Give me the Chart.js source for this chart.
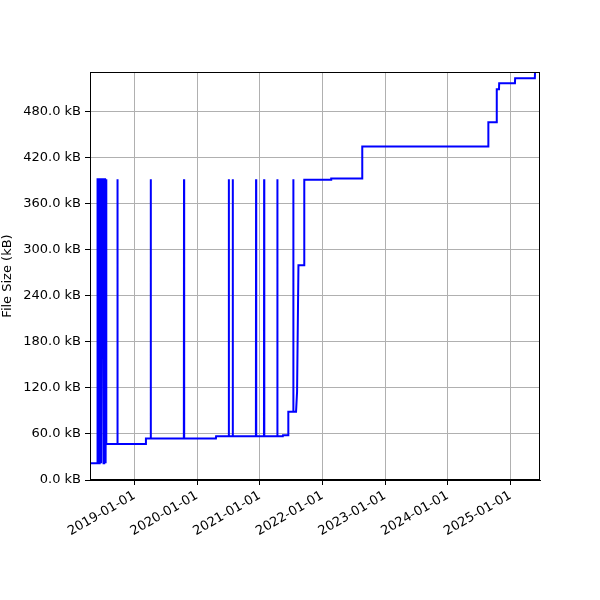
<!DOCTYPE html>
<html>
<head>
<meta charset="utf-8">
<script src="https://cdn.jsdelivr.net/npm/chart.js@4.4.1/dist/chart.umd.min.js"></script>
<style>
  body { margin: 0; background: #fff; }
  #wrap { width: 600px; height: 600px; }
</style>
</head>
<body>
<div id="wrap"><canvas id="myChart"></canvas></div>
<script>
// commit dates and file size (kB)
var dates = [
  "2018-04-21", "2018-05-30", "2018-05-31", "2018-06-08", "2018-06-09",
  "2018-06-12", "2018-06-13", "2018-06-20", "2018-06-21", "2018-06-25",
  "2018-06-26", "2018-07-04", "2018-07-05", "2018-07-08", "2018-07-09",
  "2018-07-14", "2018-07-15", "2018-07-19", "2018-07-20", "2018-07-21",
  "2018-09-23", "2018-09-24", "2018-09-25",
  "2019-03-07", "2019-03-09",
  "2019-04-05", "2019-04-06", "2019-04-07",
  "2019-10-16", "2019-10-17", "2019-10-18",
  "2020-04-20", "2020-04-21",
  "2020-07-03", "2020-07-04", "2020-07-05",
  "2020-07-26", "2020-07-27", "2020-07-28",
  "2020-12-09", "2020-12-10", "2020-12-11",
  "2021-01-25", "2021-01-26", "2021-01-27",
  "2021-04-12", "2021-04-13", "2021-04-14",
  "2021-05-15", "2021-05-16",
  "2021-06-15", "2021-06-16",
  "2021-07-14", "2021-07-15", "2021-07-16",
  "2021-07-31", "2021-08-06", "2021-08-14",
  "2021-09-16", "2021-09-17",
  "2022-02-20", "2022-02-21",
  "2022-08-20", "2022-08-21",
  "2024-08-24", "2024-08-25",
  "2024-10-12", "2024-10-13",
  "2024-10-26", "2024-10-27",
  "2025-01-27", "2025-01-28",
  "2025-05-23", "2025-05-24"
];
var sizes = [
  22, 22, 392, 392, 22,
  22, 392, 392, 22, 22,
  392, 392, 22, 22, 392,
  392, 22, 22, 392, 47,
  47, 392, 47,
  47, 54,
  54, 392, 54,
  54, 392, 54,
  54, 57,
  57, 392, 57,
  57, 392, 57,
  57, 392, 57,
  57, 392, 57,
  57, 392, 57,
  57, 58.5,
  58.5, 89,
  89, 392, 89,
  89, 115, 280,
  280, 391.5,
  391.5, 393,
  393, 434.7,
  434.7, 466.5,
  466.5, 509.6,
  509.6, 517.4,
  517.4, 524,
  524, 532
];
var xTickYears = [2019, 2020, 2021, 2022, 2023, 2024, 2025];
var yTicks = [0, 60, 120, 180, 240, 300, 360, 420, 480];

var xMin = Date.parse("2018-04-17"),
    xMax = Date.parse("2025-06-22");

Chart.defaults.font.family = "'DejaVu Sans', sans-serif";
Chart.defaults.font.size = 13;
Chart.defaults.color = "#000";

var points = dates.map(function(d, i) {
  return { x: Date.parse(d), y: sizes[i] };
});

//draw the box round the plot
const framePlugin = {
  id: "frame",
  afterDraw: (chart) => {
    let a = chart.chartArea;
    let ctx = chart.ctx;
    ctx.save();
    ctx.strokeStyle = "#000";
    ctx.lineWidth = 1;
    ctx.strokeRect(a.left + 0.5, a.top + 0.5, a.right - a.left - 1, a.bottom - a.top - 1);
    ctx.restore();
  }
};

var chart = new Chart(document.getElementById("myChart"), {
  type: "line",
  data: {
    datasets: [{
      data: points,
      borderColor: "#0000ff",
      borderWidth: 2,
      pointRadius: 0,
      tension: 0,
      fill: false
    }]
  },
  options: {
    responsive: true,
    maintainAspectRatio: false,
    animation: false,
    events: [],
    layout: { padding: { top: 72, right: 60, left: 0, bottom: 0 } },
    plugins: { legend: { display: false }, tooltip: { enabled: false } },
    scales: {
      x: {
        type: "linear",
        min: xMin,
        max: xMax,
        afterBuildTicks: (scale) => {
          scale.ticks = xTickYears.map(function(y) { return { value: Date.parse(y + "-01-01") }; });
        },
        afterFit: (scale) => { scale.height = 120; },
        ticks: {
          autoSkip: false,
          includeBounds: false,
          minRotation: 30,
          maxRotation: 30,
          padding: 3,
          callback: function(v) { return new Date(v).toISOString().slice(0, 10); }
        },
        grid: { color: "#b0b0b0", lineWidth: 1, tickColor: "#000", tickLength: 5 },
        border: { color: "#000", width: 1 }
      },
      y: {
        min: 0,
        max: 532,
        afterBuildTicks: (scale) => {
          scale.ticks = yTicks.map(function(v) { return { value: v }; });
        },
        afterFit: (scale) => { scale.width = 90; },
        ticks: {
          includeBounds: false,
          padding: 4,
          callback: function(v) { return v.toFixed(1) + " kB"; }
        },
        title: { display: true, text: "File Size (kB)", padding: 0 },
        grid: { color: "#b0b0b0", lineWidth: 1, tickColor: "#000", tickLength: 5 },
        border: { color: "#000", width: 1 }
      }
    }
  },
  plugins: [framePlugin]
});
</script>
</body>
</html>
